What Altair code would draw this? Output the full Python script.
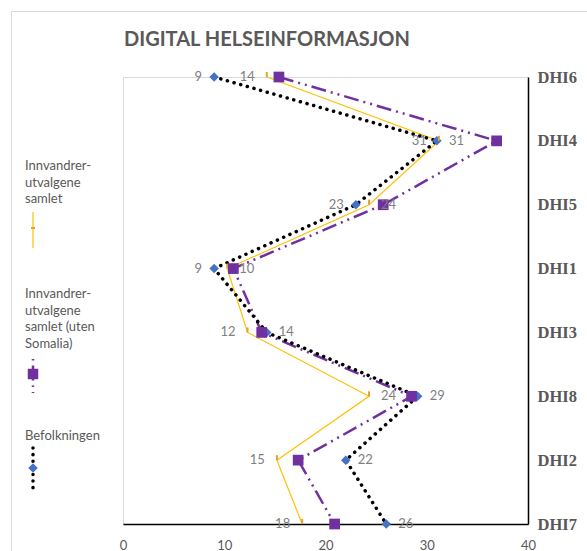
import altair as alt
import pandas as pd

# Survey items, top to bottom
categories = ["DHI6", "DHI4", "DHI5", "DHI1", "DHI3", "DHI8", "DHI2", "DHI7"]

# Share (%) per item for each group
innvandrer_samlet = [14.2, 31.2, 24.3, 10.3, 12.3, 24.3, 15.2, 17.7]
innvandrer_uten_somalia = [15.4, 36.9, 25.7, 10.9, 13.7, 28.5, 17.3, 20.9]
befolkningen = [9.0, 31.0, 23.0, 9.0, 14.2, 29.1, 22.0, 26.0]

# Which side of the point each value label sits on
samlet_label_side = ["left", "left", "right", "right", "left", "right", "left", "left"]
befolkning_label_side = ["left", "right", "left", "left", "right", "right", "right", "right"]

x_ticks = [0, 10, 20, 30, 40]

ORANGE = "#FFC000"
ORANGE_MARK = "#E5A030"
PURPLE = "#7030A0"
BLUE = "#4472C4"
GREY_TEXT = "#595959"
LABEL_GREY = "#7F7F7F"
BORDER = "#D9D9D9"
FONT = "Lato"

rows = []
for i, c in enumerate(categories):
    rows.append({"cat": c, "idx": i, "serie": "samlet", "val": innvandrer_samlet[i],
                 "side": samlet_label_side[i]})
    rows.append({"cat": c, "idx": i, "serie": "uten", "val": innvandrer_uten_somalia[i],
                 "side": "none"})
    rows.append({"cat": c, "idx": i, "serie": "bef", "val": befolkningen[i],
                 "side": befolkning_label_side[i]})
df = pd.DataFrame(rows)

x_enc = alt.X(
    "val:Q",
    scale=alt.Scale(domain=[0, 40], nice=False, zero=True),
    axis=alt.Axis(values=x_ticks, grid=False, ticks=False, tickSize=0, title=None,
                  domainColor="#000000", domainWidth=1.5, labelFont=FONT,
                  labelFontSize=13, labelColor=GREY_TEXT, labelPadding=21,
                  labelBaseline="middle", labelFlush=False),
)
y_enc = alt.Y(
    "cat:N",
    sort=categories,
    scale=alt.Scale(type="point", padding=0),
    axis=alt.Axis(orient="right", grid=False, ticks=False, tickSize=0, title=None,
                  domainColor="#000000", domainWidth=1.5, labelFont="Liberation Serif",
                  labelFontWeight="bold", labelFontSize=16.5, labelColor=GREY_TEXT,
                  labelPadding=9, labelAlign="left", labelBaseline="middle"),
)
order_enc = alt.Order("idx:Q")

base = alt.Chart(df)


def serie(name):
    return base.transform_filter(alt.datum.serie == name)


line_samlet = serie("samlet").mark_line(color=ORANGE, strokeWidth=1.2).encode(
    x=x_enc, y=y_enc, order=order_enc)
line_uten = serie("uten").mark_line(
    color=PURPLE, strokeWidth=2.5, strokeDash=[15, 5, 2, 5, 2, 5]).encode(
    x=x_enc, y=y_enc, order=order_enc)
line_bef = serie("bef").mark_line(
    color="#000000", strokeWidth=3.5, strokeDash=[0.1, 6.8], strokeCap="round").encode(
    x=x_enc, y=y_enc, order=order_enc)

pts_bef = serie("bef").mark_point(
    shape="diamond", filled=True, color=BLUE, size=90, opacity=1).encode(x=x_enc, y=y_enc)
pts_samlet = serie("samlet").mark_tick(
    color=ORANGE_MARK, size=5, thickness=2, yOffset=-2.5, opacity=1).encode(x=x_enc, y=y_enc)
pts_uten = serie("uten").mark_square(
    color=PURPLE, size=115, opacity=1).encode(x=x_enc, y=y_enc)

labelled = base.transform_filter(alt.datum.serie != "uten")
lab_left = labelled.transform_filter(alt.datum.side == "left").mark_text(
    align="right", baseline="middle", dx=-12, font=FONT, fontSize=13, color=LABEL_GREY
).encode(x=x_enc, y=y_enc, text=alt.Text("val:Q", format=".0f"))
lab_right = labelled.transform_filter(alt.datum.side == "right").mark_text(
    align="left", baseline="middle", dx=12, font=FONT, fontSize=13, color=LABEL_GREY
).encode(x=x_enc, y=y_enc, text=alt.Text("val:Q", format=".0f"))

# Single-row source for annotation layers (title, legend, outer frame)
one = alt.Data(values=[{}])

title = alt.Chart(one).mark_text(
    align="left", baseline="middle", font=FONT, fontSize=20, fontWeight="bold",
    color=GREY_TEXT).encode(x=alt.value(1), y=alt.value(-37),
                            text=alt.value("DIGITAL HELSEINFORMASJON"))

frame_top = alt.Chart(one).mark_rule(color=BORDER, strokeWidth=1).encode(
    x=alt.value(-112), x2=alt.value(470), y=alt.value(-65.5))
frame_left = alt.Chart(one).mark_rule(color=BORDER, strokeWidth=1).encode(
    x=alt.value(-111.5), y=alt.value(-66), y2=alt.value(480))


def legend_text(lines, top):
    return alt.Chart(one).mark_text(
        align="left", baseline="top", font=FONT, fontSize=13, lineHeight=16.5,
        color=GREY_TEXT).encode(x=alt.value(-98), y=alt.value(top), text=alt.value(lines))


LX = -90
leg1_text = legend_text(["Innvandrer-", "utvalgene", "samlet"], 83)
leg1_line = alt.Chart(one).mark_rule(color=ORANGE, strokeWidth=1.2).encode(
    x=alt.value(LX), y=alt.value(135), y2=alt.value(171))
leg1_mark = alt.Chart(one).mark_rule(color=ORANGE_MARK, strokeWidth=2).encode(
    x=alt.value(LX - 2), x2=alt.value(LX + 2), y=alt.value(151))

leg2_text = legend_text(["Innvandrer-", "utvalgene", "samlet (uten", "Somalia)"], 211)
leg2_line = alt.Chart(one).mark_rule(
    color=PURPLE, strokeWidth=2.5, strokeDash=[1.5, 5, 15, 5]).encode(
    x=alt.value(LX), y=alt.value(282), y2=alt.value(316))
leg2_mark = alt.Chart(one).mark_square(color=PURPLE, size=110, opacity=1).encode(
    x=alt.value(LX), y=alt.value(297))

leg3_text = legend_text(["Befolkningen"], 353)
leg3_line = alt.Chart(one).mark_rule(
    color="#000000", strokeWidth=3.5, strokeDash=[0.1, 6.5], strokeCap="round").encode(
    x=alt.value(LX), y=alt.value(371), y2=alt.value(412))
leg3_mark = alt.Chart(one).mark_point(
    shape="diamond", filled=True, color=BLUE, size=90, opacity=1).encode(
    x=alt.value(LX), y=alt.value(391))

chart = alt.layer(
    line_samlet, line_uten, line_bef,
    pts_bef, pts_samlet, pts_uten,
    lab_left, lab_right,
    title, frame_top, frame_left,
    leg1_text, leg1_line, leg1_mark,
    leg2_text, leg2_line, leg2_mark,
    leg3_text, leg3_line, leg3_mark,
).properties(
    width=405,
    height=447,
    padding={"left": 123, "top": 77, "right": 59, "bottom": 27},
    autosize=alt.AutoSizeParams(type="none"),
    background="#FFFFFF",
).configure_view(stroke=BORDER, strokeWidth=1)

chart.save("out.html", embed_options={"renderer": "svg", "actions": False})
